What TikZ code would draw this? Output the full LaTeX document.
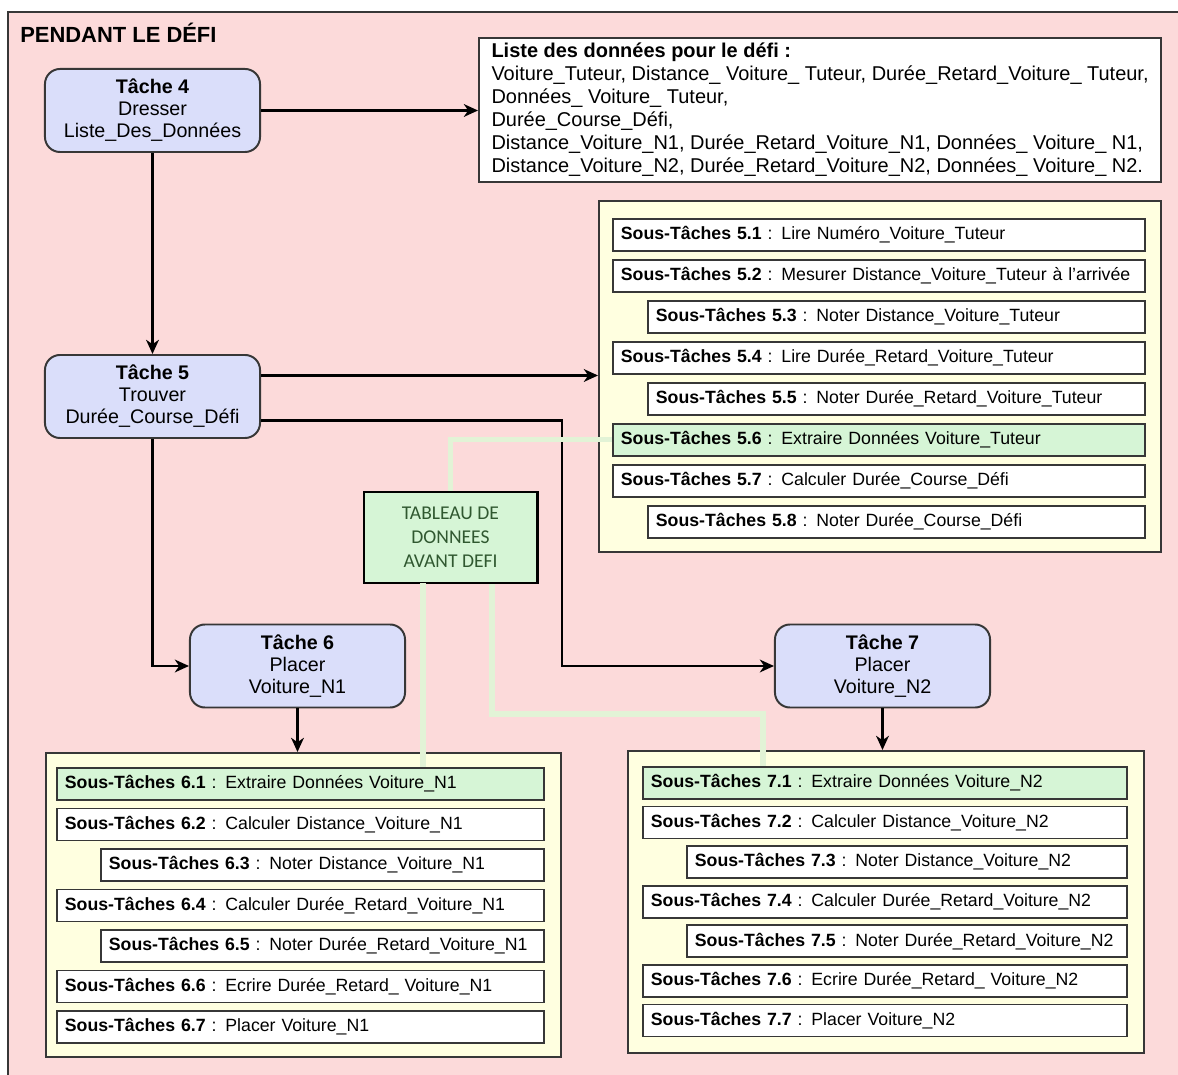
\documentclass[tikz,border=0pt]{standalone}
\usepackage{fontspec}
\setmainfont{Liberation Sans}
\newfontfamily\calibri{Carlito}
\usepackage{xcolor}
\usepackage{tikz}
\usetikzlibrary{arrows.meta}

\definecolor{rose}{RGB}{252,218,218}
\definecolor{lavande}{RGB}{218,222,250}
\definecolor{jaune}{RGB}{255,255,224}
\definecolor{vertclair}{RGB}{214,245,214}
\definecolor{vertlien}{RGB}{226,243,214}
\definecolor{vertfonce}{RGB}{48,88,48}
\definecolor{trait}{RGB}{55,55,55}

\begin{document}
\begin{tikzpicture}[x=0.025cm, y=-0.025cm,
    tache/.style={draw=trait, line width=1.4pt, fill=lavande, rounded corners=0.375cm, minimum width=5.375cm, minimum height=2.075cm, inner sep=0pt, align=center, font=\fontsize{14}{15.6}\selectfont},
    panneau/.style={draw=trait, line width=1.4pt, fill=jaune, anchor=north west, inner sep=0pt},
    sous/.style={draw=trait, line width=1.3pt, anchor=north west, minimum height=0.8cm, inner xsep=0.2cm, inner ysep=0pt, align=left, font=\fontsize{12.6}{15}\selectfont},
    fleche/.style={line width=2.1pt, -{Stealth[length=10pt, width=9pt, inset=3pt]}},
    vert/.style={draw=vertlien, line width=3.6pt}]
          \useasboundingbox (0,0) rectangle (1178,1075);
          \clip (0,0) rectangle (1178,1075);
          \fill[white] (0,0) rectangle (1178,1075);
          \draw[draw=trait, line width=2.1pt, fill=rose] (8,12) rectangle (1200,1100);
          \node[anchor=west, inner sep=0pt, font=\bfseries\fontsize{15.6}{17}\selectfont] (titre) at (20,33) {PENDANT LE DÉFI};

          % taches
          \node[tache] (t4) at (152.5,110.5) {\textbf{Tâche 4}\\Dresser\\Liste\_Des\_Données};
          \node[tache] (t5) at (152.5,396.5) {\textbf{Tâche 5}\\Trouver\\Durée\_Course\_Défi};
          \node[tache] (t6) at (297.5,666) {\textbf{Tâche 6}\\Placer\\Voiture\_N1};
          \node[tache] (t7) at (882.5,666) {\textbf{Tâche 7}\\Placer\\Voiture\_N2};

          \node[draw=trait, line width=1.4pt, fill=white, anchor=north west, minimum width=17.05cm, minimum height=3.6cm, inner sep=0pt, align=left, font=\fontsize{14.2}{16.4}\selectfont] (liste) at (478,37) {\textbf{Liste des données pour le défi :}\\Voiture\_Tuteur, Distance\_ Voiture\_ Tuteur, Durée\_Retard\_Voiture\_ Tuteur,\\Données\_ Voiture\_ Tuteur,\\Durée\_Course\_Défi,\\Distance\_Voiture\_N1, Durée\_Retard\_Voiture\_N1, Données\_ Voiture\_ N1,\\Distance\_Voiture\_N2, Durée\_Retard\_Voiture\_N2, Données\_ Voiture\_ N2.};

          % sous-taches
          \node[panneau, minimum width=14.05cm, minimum height=8.775cm] (p5) at (598,200) {};
          \node[panneau, minimum width=12.875cm, minimum height=7.6cm] (p6) at (45,752) {};
          \node[panneau, minimum width=12.9cm, minimum height=7.55cm] (p7) at (627,750) {};
          \foreach \i/\x/\w/\fond/\txt in {1/612/12.9cm/white/Lire Numéro\_Voiture\_Tuteur, 2/612/12.9cm/white/Mesurer Distance\_Voiture\_Tuteur à l'arrivée, 3/647/12.025cm/white/Noter Distance\_Voiture\_Tuteur, 4/612/12.9cm/white/Lire Durée\_Retard\_Voiture\_Tuteur, 5/647/12.025cm/white/Noter Durée\_Retard\_Voiture\_Tuteur, 6/612/12.9cm/vertclair/Extraire Données Voiture\_Tuteur, 7/612/12.9cm/white/Calculer Durée\_Course\_Défi, 8/647/12.025cm/white/Noter Durée\_Course\_Défi} {
            \node[sous, fill=\fond, text width=\w] (s5-\i) at (\x,{177+41*\i}) {\mbox{\textbf{Sous-Tâches 5.\i} : \txt}};
          }
          \foreach \i/\x/\w/\fond/\txt in {1/56/11.775cm/vertclair/Extraire Données Voiture\_N1, 2/56/11.775cm/white/Calculer Distance\_Voiture\_N1, 3/100/10.675cm/white/Noter Distance\_Voiture\_N1, 4/56/11.775cm/white/Calculer Durée\_Retard\_Voiture\_N1, 5/100/10.675cm/white/Noter Durée\_Retard\_Voiture\_N1, 6/56/11.775cm/white/Ecrire Durée\_Retard\_ Voiture\_N1, 7/56/11.775cm/white/Placer Voiture\_N1} {
            \node[sous, fill=\fond, text width=\w] (s6-\i) at (\x,{726.5+40.5*\i}) {\mbox{\textbf{Sous-Tâches 6.\i} : \txt}};
          }
          \foreach \i/\x/\w/\fond/\txt in {1/642/11.7cm/vertclair/Extraire Données Voiture\_N2, 2/642/11.7cm/white/Calculer Distance\_Voiture\_N2, 3/686/10.6cm/white/Noter Distance\_Voiture\_N2, 4/642/11.7cm/white/Calculer Durée\_Retard\_Voiture\_N2, 5/686/10.6cm/white/Noter Durée\_Retard\_Voiture\_N2, 6/642/11.7cm/white/Ecrire Durée\_Retard\_ Voiture\_N2, 7/642/11.7cm/white/Placer Voiture\_N2} {
            \node[sous, fill=\fond, text width=\w] (s7-\i) at (\x,{726.4+39.6*\i}) {\mbox{\textbf{Sous-Tâches 7.\i} : \txt}};
          }

          \node[draw=black, line width=2.1pt, fill=vertclair, minimum width=4.325cm, minimum height=2.275cm, inner sep=0pt, align=center, text=vertfonce, font=\calibri\fontsize{13.9}{17.1}\selectfont] (tab) at (450.5,537.5) {TABLEAU DE\\DONNEES\\AVANT DEFI};

          % liens
          \coordinate (k7) at (562,540);
          \coordinate (g6) at (423,583);
          \coordinate (g7) at (763,714);
          \draw[fleche] (t4.east) -- (t4.east -| liste.west);
          \draw[fleche] (t4.south) -- (t5.north);
          \draw[fleche] ([yshift=0.525cm]t5.east) -- ([yshift=0.525cm]t5.east -| p5.west);
          \draw[fleche] ([yshift=-0.6cm]t5.east) -| (k7) |- (t7.west);
          \draw[fleche] (t5.south) |- (t6.west);
          \draw[fleche] (t6.south) -- (t6.south |- p6.north);
          \draw[fleche] (t7.south) -- (t7.south |- p7.north);

          \draw[vert] (tab.north) |- (s5-6.west);
          \draw[vert] (g6) -- (g6 |- s6-1.north);
          \draw[vert] (tab.south -| 492,0) |- (g7) -- (g7 |- s7-1.north);
        \end{tikzpicture}
\end{document}
